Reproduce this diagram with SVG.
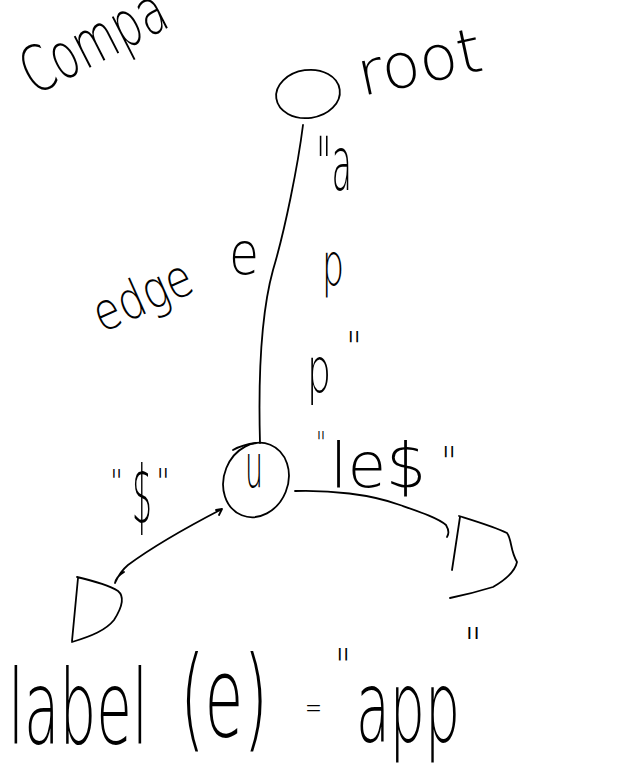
<svg xmlns="http://www.w3.org/2000/svg" width="629" height="763" viewBox="0 0 629 763">
<style>
.ink{fill:none;stroke:#000;stroke-width:1.8;stroke-linecap:round;stroke-linejoin:round}
.t{font-family:"DejaVu Sans","Lato",sans-serif;font-weight:200;fill:#000}
</style>
<rect width="629" height="763" fill="#fff"/>
<text class="t" x="34" y="96" font-size="64" transform="rotate(-27 34 96)" textLength="155" lengthAdjust="spacingAndGlyphs">Compa</text>
<g id="node-root">
  <ellipse class="ink" cx="308" cy="94" rx="32" ry="24" transform="rotate(-8 308 94)"/>
  <text class="t" x="362" y="96" font-size="62" transform="rotate(-12 362 96)" textLength="126" lengthAdjust="spacingAndGlyphs">root</text>
</g>
<g id="node-u">
  <ellipse class="ink" cx="256" cy="480" rx="32" ry="38" transform="rotate(22 256 480)"/>
  <text class="t" x="245" y="487" font-size="60" textLength="18" lengthAdjust="spacingAndGlyphs">u</text>
</g>
<g id="leaf-left">
  <path class="ink" d="M78,578 L72,641 M77,577 C90,580 110,586 118,591 C124,596 123,606 114,620 C106,630 92,636 72,642"/>
</g>
<g id="leaf-right">
  <path class="ink" d="M460,517 L452,570 M459,516 C475,521 495,527 507,533 C512,540 510,550 517,562 C515,572 505,580 493,587 C480,591 465,595 450,598"/>
</g>
<g id="connectors">
  <path class="ink" d="M303,125 C298,165 285,230 273,270 C262,310 258,370 260,443"/>
  <path class="ink" d="M233,450 C240,446 248,444 256,443"/>
  <path class="ink" d="M222,509 C195,523 155,545 128,565 C122,570 118,576 115,583 M115,583 C116,578 119,575 124,572 M216,510 L222,509 L219,515"/>
  <path class="ink" d="M295,491 C330,490 370,494 400,505 C420,512 438,518 446,525 C449,530 449,534 447,537"/>
</g>
<g id="labels">
  <text class="t" x="316" y="190" font-size="75" textLength="36" lengthAdjust="spacingAndGlyphs">"a</text>
  <text class="t" x="322" y="285" font-size="58" textLength="22" lengthAdjust="spacingAndGlyphs">p</text>
  <text class="t" x="307" y="392" font-size="62" textLength="24" lengthAdjust="spacingAndGlyphs">p</text>
  <text class="t" x="346" y="361" font-size="40" textLength="16" lengthAdjust="spacingAndGlyphs">"</text>
  <text class="t" x="102" y="333" font-size="52" transform="rotate(-24 102 333)" textLength="104" lengthAdjust="spacingAndGlyphs">edge</text>
  <text class="t" x="229" y="274" font-size="58" textLength="30" lengthAdjust="spacingAndGlyphs">e</text>
  <text class="t" x="316" y="453" font-size="30" textLength="10" lengthAdjust="spacingAndGlyphs">"</text>
  <text class="t" x="330" y="487" font-size="62" textLength="96" lengthAdjust="spacingAndGlyphs">le$</text>
  <text class="t" x="441" y="476" font-size="40" textLength="16" lengthAdjust="spacingAndGlyphs">"</text>
  <text class="t" x="110" y="492" font-size="32" textLength="13" lengthAdjust="spacingAndGlyphs">"</text>
  <text class="t" x="132" y="523" font-size="80" textLength="20" lengthAdjust="spacingAndGlyphs">$</text>
  <text class="t" x="156" y="494" font-size="36" textLength="14" lengthAdjust="spacingAndGlyphs">"</text>
</g>
<g id="formula">
  <text class="t" x="8" y="744" font-size="104" textLength="140" lengthAdjust="spacingAndGlyphs">label</text>
  <text class="t" x="180" y="736" font-size="112" textLength="88" lengthAdjust="spacingAndGlyphs">(e)</text>
  <text class="t" x="305" y="718" font-size="30" textLength="17" lengthAdjust="spacingAndGlyphs">=</text>
  <text class="t" x="335" y="682" font-size="46" textLength="16" lengthAdjust="spacingAndGlyphs">"</text>
  <text class="t" x="356" y="742" font-size="100" textLength="104" lengthAdjust="spacingAndGlyphs">app</text>
  <text class="t" x="464" y="660" font-size="44" textLength="18" lengthAdjust="spacingAndGlyphs">"</text>
</g>
</svg>
